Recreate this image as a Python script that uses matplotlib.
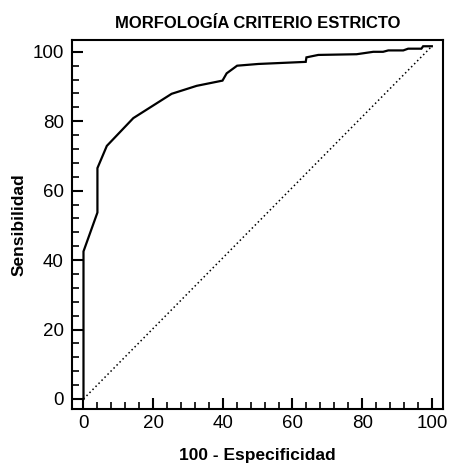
import matplotlib
matplotlib.use("Agg")
import matplotlib.pyplot as plt
from matplotlib.ticker import MultipleLocator
from matplotlib import font_manager

# Data
fpr = [0, 0, 4.0, 4.0, 6.7, 14.3, 25.3, 32.5, 39.9, 41.1, 44.1, 50.2, 63.8, 64.0,
       67.4, 78.4, 83.2, 86.0, 87.5, 91.8, 93.2, 97.0, 97.5, 100.0]
sens = [0, 42.5, 53.7, 66.5, 72.9, 80.9, 87.9, 90.2, 91.7, 93.8, 96.0, 96.5, 97.1, 98.4,
        99.1, 99.3, 100.0, 100.0, 100.4, 100.4, 100.9, 100.9, 101.6, 101.6]
diag_x = [0, 100]
diag_y = [0, 101.6]
title = "MORFOLOGÍA CRITERIO ESTRICTO"
xlabel = "100 - Especificidad"
ylabel = "Sensibilidad"
ticks = [0, 20, 40, 60, 80, 100]

names = {f.name for f in font_manager.fontManager.ttflist}
fam = ["Liberation Sans Narrow", "DejaVu Sans"] if "Liberation Sans Narrow" in names else ["Liberation Sans", "DejaVu Sans"]
plt.rcParams['font.family'] = fam

fig = plt.figure(figsize=(4.5, 4.63), dpi=100)
ax = fig.add_axes([0.16, 0.1166, 0.8244, 0.797])

ax.plot(diag_x, diag_y, color='black', linestyle=(0, (1, 1.8)), linewidth=1.1)
ax.plot(fpr, sens, color='black', linewidth=1.6, solid_joinstyle='miter')

ax.set_xlim(-3.3, 103.2)
ax.set_ylim(-2.9, 103.4)
ax.set_xticks(ticks)
ax.set_yticks(ticks)
ax.xaxis.set_minor_locator(MultipleLocator(4))
ax.yaxis.set_minor_locator(MultipleLocator(4))
ax.tick_params(which='both', direction='in', top=False, right=False, labelsize=13.5, colors='black')
ax.tick_params(axis='x', which='major', length=8, width=1.5, pad=4)
ax.tick_params(axis='y', which='major', length=8, width=1.5, pad=6)
ax.tick_params(which='minor', length=5, width=1.2)
for s in ax.spines.values():
    s.set_linewidth(1.5)

ax.set_xlabel(xlabel, fontsize=12.5, fontweight='bold', labelpad=12)
ax.set_ylabel(ylabel, fontsize=12.5, fontweight='bold', labelpad=4)
ax.set_title(title, fontsize=12, fontweight='bold', pad=9)

fig.savefig("out.png", dpi=100)
